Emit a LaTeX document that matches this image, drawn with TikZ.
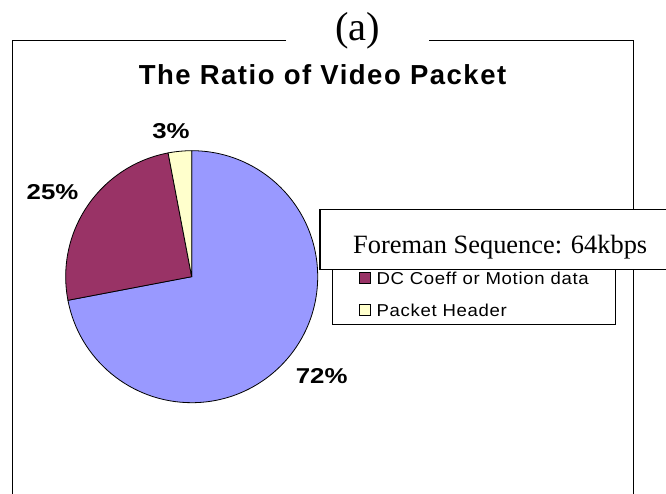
\documentclass[tikz,border=0pt]{standalone}
\usepackage{fontspec}
\setmainfont{Liberation Serif}
\newfontfamily\titlefont[LetterSpace=5.5]{Liberation Sans}
\newfontfamily\pctfont[FakeStretch=1.2]{Liberation Sans}
\newfontfamily\legfont[FakeStretch=1.08,LetterSpace=4]{Liberation Sans}
\definecolor{videoblue}{HTML}{9999FF}
\definecolor{dcmaroon}{HTML}{993366}
\definecolor{hdryellow}{HTML}{FFFFCC}
\tikzset{
  slice/.style={draw=black, line width=0.8pt},
  pct/.style={font=\pctfont\bfseries\fontsize{21.5}{24}\selectfont, anchor=base, inner sep=0pt},
  legtext/.style={font=\legfont\fontsize{17.2}{20}\selectfont, anchor=base west, inner sep=0pt},
  legkey/.style={draw=black, line width=0.6pt},
  frameline/.style={line width=0.9pt}
}
\begin{document}
\begin{tikzpicture}[x=1pt,y=1pt]
	\useasboundingbox (0,0) rectangle (666,494);
	\clip (0,0) rectangle (666,494);
	% chart frame, top edge broken for the caption
	\draw[frameline] (286,453.7) -- (12.7,453.7) -- (12.7,-5);
	\draw[frameline] (429,453.7) -- (633.5,453.7) -- (633.5,-5);
	\node[font=\fontsize{40.5}{44}\selectfont, anchor=base, inner sep=0pt] (cap) at (357.5,453.2) {(a)};
	\node[font=\titlefont\bfseries\fontsize{27.5}{30}\selectfont, anchor=base, inner sep=0pt] (title) at (322.5,409) {The Ratio of Video Packet};
	% pie: 72 / 25 / 3
	\coordinate (pie) at (191.7,217.3);
	\filldraw[slice, fill=videoblue] (pie) -- ++(90:126pt) arc[start angle=90, end angle=-169.2, radius=126pt] -- cycle;
	\filldraw[slice, fill=dcmaroon] (pie) -- ++(190.8:126pt) arc[start angle=190.8, end angle=100.8, radius=126pt] -- cycle;
	\filldraw[slice, fill=hdryellow] (pie) -- ++(100.8:126pt) arc[start angle=100.8, end angle=90, radius=126pt] -- cycle;
	\node[pct] (p3) at (171,355.7) {3\%};
	\node[pct] (p25) at (52.5,294) {25\%};
	\node[pct] (p72) at (321.7,110) {72\%};
	% legend
	\draw[line width=0.9pt] (332,169.5) rectangle (615.5,269);
	\draw[legkey, fill=dcmaroon] (359.3,210.3) rectangle (370.7,221.7);
	\draw[legkey, fill=hdryellow] (359.3,178.3) rectangle (370.7,189.3);
	\node[legtext] (dc) at (376.3,209) {DC Coeff or Motion data};
	\node[legtext] (hdr) at (376.3,177.3) {Packet Header};
	% sequence label on top
	\draw[line width=1.2pt, fill=white] (320,224.5) rectangle (690,284.7);
	\node[font=\fontsize{26.4}{30}\selectfont, anchor=base west, inner sep=0pt] (seq) at (353,240.7) {Foreman Sequence: 64kbps};
\end{tikzpicture}
\end{document}
